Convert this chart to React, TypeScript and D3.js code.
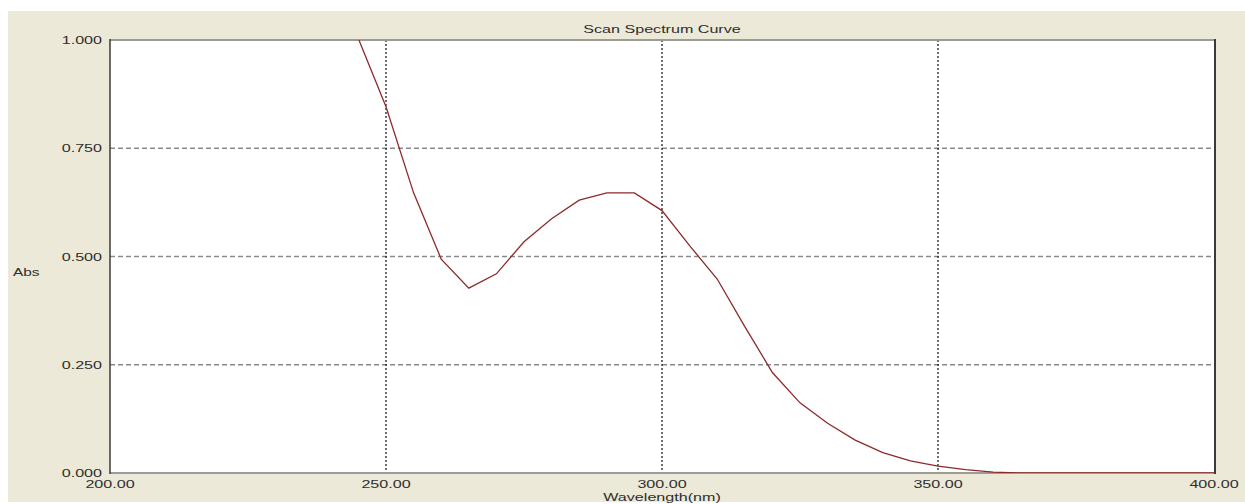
import React from "react";
import * as d3 from "d3";

const wavelengths = [245, 250, 255, 260, 265, 270, 275, 280, 285, 290, 295, 300, 305, 310, 315, 320, 325, 330, 335, 340, 345, 350, 355, 360, 365, 370, 375, 380, 385, 390, 395, 400];
const absValues = [1.003, 0.846, 0.647, 0.494, 0.427, 0.46, 0.534, 0.587, 0.63, 0.647, 0.647, 0.606, 0.525, 0.448, 0.338, 0.232, 0.162, 0.115, 0.076, 0.047, 0.028, 0.016, 0.008, 0.002, 0, 0, 0, 0, 0, 0, 0, 0];
const xTicks = [200, 250, 300, 350, 400];
const yTicks = [0, 0.25, 0.5, 0.75, 1.0];
const title = "Scan Spectrum Curve";
const xTitle = "Wavelength(nm)";
const yTitle = "Abs";

const W = 1245;
const H = 504;
const left = 110;
const right = 1214;
const top = 40;
const bottom = 473;

const FONT = "'Liberation Sans', Arial, sans-serif";
const SX = 1.4;

function Label({ x, y, text, anchor = "middle", size = 11.5 }: { x: number; y: number; text: string; anchor?: string; size?: number }) {
  return (
    <text
      transform={`translate(${x},${y}) scale(${SX},1)`}
      textAnchor={anchor as any}
      dominantBaseline="central"
      fontFamily={FONT}
      fontSize={size}
      fill="#2e2e2e"
    >
      {text}
    </text>
  );
}

export default function App() {
  const x = d3.scaleLinear().domain([200, 400]).range([left, right]);
  const y = d3.scaleLinear().domain([0, 1]).range([bottom, top]);
  const pts = wavelengths.map((w, i) => [w, absValues[i]] as [number, number]);
  const line = d3
    .line<[number, number]>()
    .x((d) => x(d[0]))
    .y((d) => y(d[1]))(pts) as string;

  return (
    <svg width={W} height={H} style={{ position: "absolute", left: 0, top: 0 }}>
      <rect x={0} y={0} width={W} height={H} fill="#ffffff" />
      <rect x={8} y={11} width={W - 8} height={491} fill="#ECE9D8" />
      <defs>
        <clipPath id="plotclip">
          <rect x={left} y={top} width={right - left} height={bottom - top} />
        </clipPath>
      </defs>
      <rect x={left} y={top} width={right - left + 1} height={bottom - top} fill="#ffffff" />
      {yTicks.filter((t) => t > 0 && t < 1).map((t) => (
        <line key={"h" + t} x1={left} x2={right} y1={y(t)} y2={y(t)} stroke="#8a8a8a" strokeWidth={1.5} strokeDasharray="5,3" />
      ))}
      {xTicks.filter((t) => t > 200 && t < 400).map((t) => (
        <line key={"v" + t} x1={x(t)} x2={x(t)} y1={top} y2={bottom} stroke="#1e1e1e" strokeWidth={1.3} strokeDasharray="2,2" />
      ))}
      {/* frame */}
      <line x1={left} x2={right + 2} y1={top} y2={top} stroke="#9c9c94" strokeWidth={2} />
      <line x1={left} x2={right + 2} y1={bottom} y2={bottom} stroke="#9c9c94" strokeWidth={2} />
      <line x1={left} x2={left} y1={top - 1} y2={bottom + 1} stroke="#3a3a3a" strokeWidth={1.5} />
      <line x1={right + 1} x2={right + 1} y1={top - 1} y2={bottom + 1} stroke="#3a3a3a" strokeWidth={2} />
      <g clipPath="url(#plotclip)">
        <path d={line} fill="none" stroke="#8e2a2a" strokeWidth={1.3} />
      </g>
      <path d={line} fill="none" stroke="none" />
      {/* title */}
      <Label x={(left + right) / 2} y={29} text={title} />
      {/* y labels */}
      {yTicks.map((t) => (
        <Label key={"yl" + t} x={102} y={y(t)} text={d3.format(".3f")(t)} anchor="end" />
      ))}
      <Label x={13} y={272} text={yTitle} anchor="start" size={11} />
      {/* x labels */}
      {xTicks.map((t) => (
        <Label key={"xl" + t} x={x(t)} y={484} text={d3.format(".2f")(t)} />
      ))}
      <Label x={(left + right) / 2} y={497} text={xTitle} />
    </svg>
  );
}
